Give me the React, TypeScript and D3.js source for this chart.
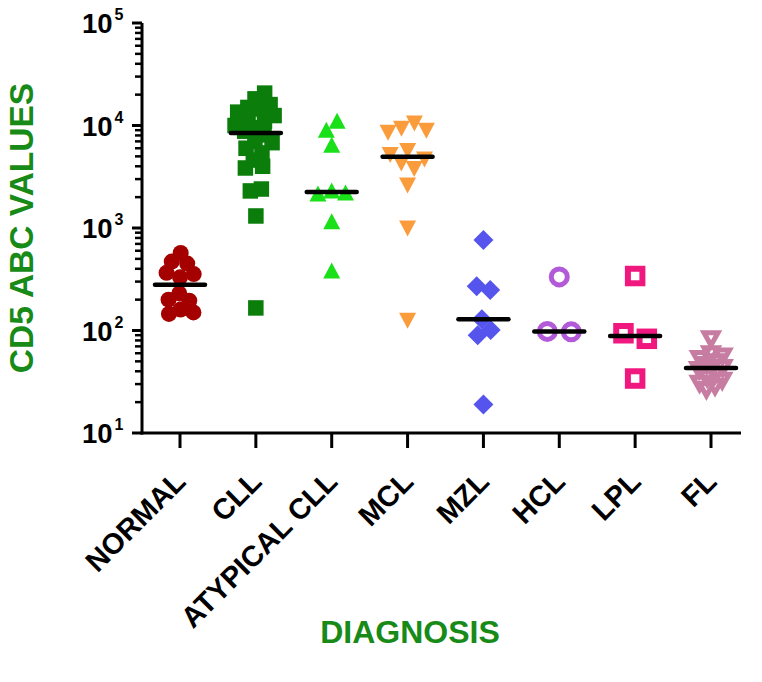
import React, { useMemo } from 'react';
import * as d3 from 'd3';

const categories = ['NORMAL', 'CLL', 'ATYPICAL CLL', 'MCL', 'MZL', 'HCL', 'LPL', 'FL'];

const normalValues = [570, 470, 450, 365, 355, 330, 230, 200, 195, 160, 150, 145];
const cllValues = [20700, 18200, 16000, 15000, 14500, 13500, 12500, 11500, 11000, 10000, 9500, 8800, 8100, 7000, 6800, 6000, 5400, 4600, 4000, 3850, 2400, 2300, 1310, 166];
const atypicalValues = [11000, 9000, 6400, 2300, 2200, 2150, 1150, 380];
const mclValues = [10600, 9400, 9000, 8600, 5700, 5200, 4700, 4300, 3800, 2630, 1000, 126];
const mzlValues = [764, 270, 248, 129, 101, 90, 19];
const hclValues = [333, 98, 97];
const lplValues = [340, 94, 83, 34];
const flValues = [84, 60, 57, 54, 50, 47, 44, 42, 38, 35, 33, 31, 29, 27];

const seriesValues = [normalValues, cllValues, atypicalValues, mclValues, mzlValues, hclValues, lplValues, flValues];

const yTickExponents = [1, 2, 3, 4, 5];

type Style = { shape: string; color: string; open: boolean; collide: number };
const seriesStyles: Style[] = [
  { shape: 'circle', color: '#a50000', open: false, collide: 6.2 },
  { shape: 'square', color: '#0b7d0b', open: false, collide: 5.6 },
  { shape: 'triangle', color: '#19e019', open: false, collide: 7 },
  { shape: 'triangleDown', color: '#fa9c3c', open: false, collide: 7 },
  { shape: 'diamond', color: '#5555ee', open: false, collide: 7 },
  { shape: 'circle', color: '#b35ad8', open: true, collide: 12 },
  { shape: 'square', color: '#f0187f', open: true, collide: 12 },
  { shape: 'triangleDown', color: '#c77ca2', open: true, collide: 4.6 },
];

const W = 762;
const H = 682;
const FONT = '"Liberation Sans", Arial, Helvetica, sans-serif';
const TITLE_GREEN = '#178a17';

function Marker({ x, y, st }: { x: number; y: number; st: Style }) {
  const { shape, color, open } = st;
  const fill = open ? 'none' : color;
  const stroke = open ? color : 'none';
  if (shape === 'circle') {
    return open ? (
      <circle cx={x} cy={y} r={8} fill="none" stroke={color} strokeWidth={5} />
    ) : (
      <circle cx={x} cy={y} r={8} fill={color} />
    );
  }
  if (shape === 'square') {
    const s = open ? 14.5 : 15.5;
    return <rect x={x - s / 2} y={y - s / 2} width={s} height={s} fill={fill} stroke={stroke} strokeWidth={open ? 6 : 0} />;
  }
  if (shape === 'triangle') {
    const d = `M${x},${y - 8.5}L${x + 8.5},${y + 7.5}L${x - 8.5},${y + 7.5}Z`;
    return <path d={d} fill={color} />;
  }
  if (shape === 'triangleDown') {
    if (open) {
      const d = `M${x},${y + 7}L${x + 7},${y - 5.5}L${x - 7},${y - 5.5}Z`;
      return <path d={d} fill="none" stroke={color} strokeWidth={5} strokeLinejoin="miter" />;
    }
    const d = `M${x},${y + 8.5}L${x + 8.5},${y - 7.5}L${x - 8.5},${y - 7.5}Z`;
    return <path d={d} fill={color} />;
  }
  const d = `M${x},${y - 10}L${x + 10},${y}L${x},${y + 10}L${x - 10},${y}Z`;
  return <path d={d} fill={color} />;
}

export default function App() {
  const x = d3.scalePoint<string>().domain(categories).range([180, 711]);
  const y = d3.scaleLog().domain([10, 1e5]).range([433, 23]);

  const layout = useMemo(() => {
    return seriesValues.map((vals, gi) => {
      const cx = x(categories[gi]) as number;
      const st = seriesStyles[gi];
      const nodes: any[] = vals.map((v, i) => ({
        v,
        x: cx + (i % 2 === 0 ? 1 : -1) * (i * 0.5),
        y: y(v),
        fy: y(v),
      }));
      const sim = d3
        .forceSimulation(nodes)
        .force('x', d3.forceX(cx).strength(0.08))
        .force('collide', d3.forceCollide(st.collide).strength(0.9).iterations(3))
        .stop();
      for (let t = 0; t < 300; t++) sim.tick();
      return { cx, nodes, median: d3.median(vals) as number };
    });
  }, []);

  const minorTicks: number[] = [];
  for (let k = 1; k < 5; k++) for (let m = 2; m <= 9; m++) minorTicks.push(m * Math.pow(10, k));

  const axisX = 142;
  const axisY = 433;

  return (
    <svg width={W} height={H} style={{ position: 'absolute', left: 0, top: 0 }} fontFamily={FONT}>
      <rect x={0} y={0} width={W} height={H} fill="#ffffff" />
      <line x1={axisX} x2={axisX} y1={y(1e5)} y2={axisY + 1.5} stroke="#000" strokeWidth={3} />
      {minorTicks.map((v) => (
        <line key={'m' + v} x1={axisX - 7} x2={axisX} y1={y(v)} y2={y(v)} stroke="#000" strokeWidth={2.5} />
      ))}
      {yTickExponents.map((e) => {
        const ty = y(Math.pow(10, e));
        return (
          <g key={'t' + e}>
            <line x1={axisX - 10} x2={axisX} y1={ty} y2={ty} stroke="#000" strokeWidth={3} />
            <text x={112.5} y={ty + 10} textAnchor="end" fontSize={27.5} fontWeight="bold" fill="#000">10</text>
            <text x={114.5} y={ty - 3} textAnchor="start" fontSize={16} fontWeight="bold" fill="#000">{e}</text>
          </g>
        );
      })}
      <line x1={axisX - 1.5} x2={741} y1={axisY} y2={axisY} stroke="#000" strokeWidth={3} />
      {categories.map((c) => {
        const tx = x(c) as number;
        return (
          <g key={'x' + c}>
            <line x1={tx} x2={tx} y1={axisY} y2={axisY + 15} stroke="#000" strokeWidth={3} />
            <text
              transform={`translate(${tx},${476}) rotate(-45)`}
              textAnchor="end"
              dy="0.36em"
              fontSize={29}
              fontWeight="bold"
              fill="#000"
            >
              {c}
            </text>
          </g>
        );
      })}
      {layout.map((g, gi) => (
        <g key={'g' + gi}>
          {g.nodes.map((n: any, i: number) => (
            <Marker key={i} x={n.x} y={n.fy} st={seriesStyles[gi]} />
          ))}
        </g>
      ))}
      {layout.map((g, gi) => (
        <line
          key={'med' + gi}
          x1={g.cx - 25}
          x2={g.cx + 25}
          y1={y(g.median)}
          y2={y(g.median)}
          stroke="#000"
          strokeWidth={4.5}
          strokeLinecap="round"
        />
      ))}
      <text
        transform={`translate(33,228) rotate(-90)`}
        textAnchor="middle"
        fontSize={33.5}
        fontWeight="bold"
        fill={TITLE_GREEN}
      >
        CD5 ABC VALUES
      </text>
      <text x={410} y={643} textAnchor="middle" fontSize={32} fontWeight="bold" fill={TITLE_GREEN}>
        DIAGNOSIS
      </text>
    </svg>
  );
}
